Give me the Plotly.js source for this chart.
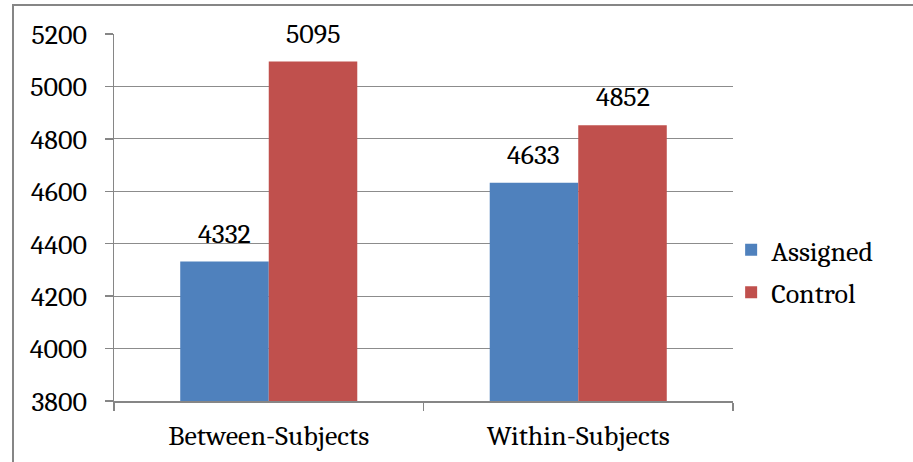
<!DOCTYPE html>
<html>
<head>
<meta charset="utf-8">
<script src="https://cdn.plot.ly/plotly-3.0.1.min.js"></script>
<style>
html,body{margin:0;padding:0;background:#fff;overflow:hidden;}
#frame{position:absolute;left:12px;top:4px;width:1000px;height:1000px;border:2px solid #868686;pointer-events:none;z-index:5;}
#chart{position:absolute;left:0;top:0;width:913px;height:462px;}
</style>
</head>
<body>
<div id="chart"></div>
<div id="frame"></div>
<script>
const categories = ["Between-Subjects", "Within-Subjects"];
const seriesNames = ["Assigned", "Control"];
const assigned = [4332, 4633];
const control = [5095, 4852];
const colors = ["#4F81BD", "#C0504D"];
const yTicks = [3800, 4000, 4200, 4400, 4600, 4800, 5000, 5200];

const FONT = "Cambria, 'DejaVu Serif', serif";
const FS = 28;
const series = [assigned, control];

const traces = series.map((vals, i) => ({
  type: "bar",
  name: seriesNames[i],
  x: categories,
  y: vals,
  legendgroup: "g" + i,
  marker: {color: colors[i], line: {width: 0}},
  hoverinfo: "skip"
}));

const annotations = [];
series.forEach((vals, i) => {
  vals.forEach((v, j) => {
    annotations.push({
      x: categories[j], y: v, xref: "x", yref: "y",
      text: String(v), showarrow: false,
      xshift: (i === 0 ? -44.5 : 44.5),
      yanchor: "bottom", yshift: 10,
      font: {family: FONT, size: FS, color: "#000"}
    });
  });
});

const layout = {
  width: 913, height: 462,
  margin: {l: 114, r: 180, t: 34, b: 61},
  paper_bgcolor: "#fff", plot_bgcolor: "#fff",
  barmode: "group", bargap: 0.428, bargroupgap: 0,
  font: {family: FONT, size: FS, color: "#000"},
  showlegend: true,
  legend: {x: 0.997, xanchor: "left", y: 0.354, yanchor: "middle",
           font: {family: FONT, size: FS, color: "#000"},
           tracegroupgap: 3, bgcolor: "rgba(0,0,0,0)"},
  xaxis: {
    type: "category", tickson: "boundaries", ticks: "outside", ticklen: 8,
    tickcolor: "#868686", tickwidth: 1.5,
    showline: true, linecolor: "#868686", linewidth: 1.5,
    showgrid: false, zeroline: false, fixedrange: true,
    ticklabelstandoff: 9,
    tickfont: {family: FONT, size: FS, color: "#000"}
  },
  yaxis: {
    range: [3800, 5200], tickvals: yTicks, ticktext: yTicks.map(String),
    ticks: "outside", ticklen: 8, tickcolor: "#868686", tickwidth: 1.5,
    showline: true, linecolor: "#868686", linewidth: 1.5,
    showgrid: true, gridcolor: "#8c8c8c", gridwidth: 1.2,
    zeroline: false, fixedrange: true, ticklabelstandoff: 12,
    tickfont: {family: FONT, size: FS, color: "#000"}
  },
  annotations: annotations
};

Plotly.newPlot("chart", traces, layout, {displayModeBar: false, staticPlot: true});
</script>
</body>
</html>
